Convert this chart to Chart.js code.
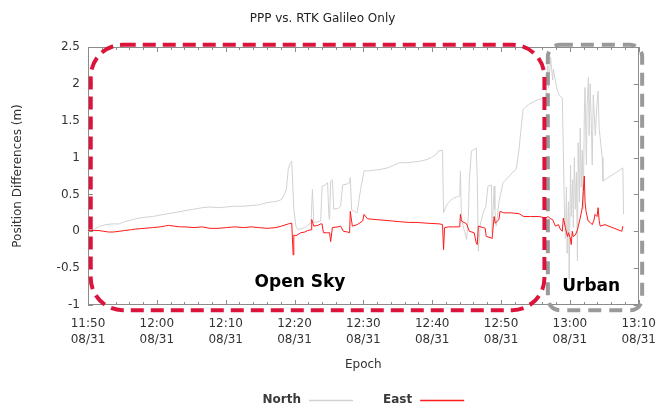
<!DOCTYPE html>
<html><head><meta charset="utf-8">
<script src="https://cdn.jsdelivr.net/npm/chart.js@4"></script>
<style>html,body{margin:0;padding:0;background:#fff}</style>
</head><body>
<canvas id="c" width="666" height="407"></canvas>
<script>
// ---- data ----
const chartTitle = 'PPP vs. RTK Galileo Only';
const startHour = 11, startMinute = 50;
const dateLabel = '08/31';
const xTickMinutes = [0, 10, 20, 30, 40, 50, 60, 70, 80];
const yTickValues = [-1, -0.5, 0, 0.5, 1, 1.5, 2, 2.5];
const seriesNames = ['North', 'East'];

const northMinutes = [0,1.0,1.7,2.6,3.5,4.5,5.3,6.2,6.9,8.2,9.4,10.5,11.7,13.0,14.1,15.4,16.6,17.7,18.9,20.1,21.3,22.6,23.7,24.9,26.0,26.9,27.5,28.1,28.5,28.8,29.1,29.4,29.6,29.9,30.2,30.5,30.8,31.5,31.9,32.4,32.6,32.8,33.4,33.8,34.0,34.5,34.8,35.0,35.1,35.25,35.5,35.7,36.3,36.7,37.0,37.6,38.0,38.1,38.3,38.7,39.1,39.6,39.9,40.1,40.9,41.6,42.5,43.5,44.5,45.3,46.3,47.2,48.2,49.1,49.9,50.7,50.9,51.5,51.65,52.1,52.7,53.1,53.7,54.0,54.1,54.25,54.7,55.0,55.25,55.4,55.7,56.1,56.4,56.55,56.7,57.0,57.4,57.8,58.1,58.6,58.7,59.0,59.1,59.3,59.7,60.3,61.2,61.7,62.2,62.6,62.9,63.2,63.6,64.0,64.8,65.5,66.2,66.5,66.8,66.9,67.2,67.5,67.6,67.9,68.2,68.4,68.6,68.9,69.1,69.2,69.35,69.5,69.6,69.8,69.9,70.1,70.2,70.4,70.5,70.65,70.8,70.95,71.1,71.2,71.4,71.5,71.65,71.8,71.95,72.1,72.2,72.4,72.5,72.7,72.8,72.95,73.1,73.25,73.4,73.7,73.95,74.1,74.25,74.4,74.7,74.8,77.7,77.8];
const northValues = [0.00,0.03,0.07,0.09,0.10,0.10,0.13,0.15,0.17,0.19,0.20,0.22,0.24,0.26,0.28,0.30,0.32,0.33,0.32,0.33,0.34,0.34,0.35,0.36,0.39,0.40,0.41,0.43,0.50,0.56,0.85,0.93,0.95,0.30,0.07,0.02,0.03,0.05,0.08,0.12,0.57,0.12,0.13,0.14,0.61,0.63,0.66,0.20,0.16,0.68,0.70,0.30,0.31,0.34,0.63,0.64,0.66,0.73,0.29,0.27,0.25,0.57,0.72,0.82,0.82,0.83,0.84,0.86,0.90,0.93,0.93,0.94,0.95,0.97,1.00,1.05,1.09,1.10,0.25,0.36,0.42,0.45,0.47,0.48,0.82,0.16,0.00,-0.11,0.20,0.70,1.09,1.11,1.13,0.70,-0.27,0.10,0.25,0.34,0.61,0.63,-0.02,0.61,0.30,0.07,0.40,0.66,0.75,0.80,0.84,1.10,1.38,1.65,1.69,1.72,1.76,1.79,1.80,1.81,2.25,1.95,2.36,2.05,2.20,2.04,1.90,1.86,1.83,1.81,0.82,0.30,-0.10,0.60,-0.30,0.40,-0.65,0.90,0.20,0.70,0.05,1.00,0.30,0.80,-0.40,1.20,0.40,1.40,0.60,1.10,0.30,1.60,1.95,0.90,1.70,2.09,1.30,2.00,1.50,0.90,1.85,1.30,1.75,1.90,1.40,1.27,1.00,0.68,0.86,0.23];

const eastMinutes = [0,1.0,1.6,2.3,3.0,3.7,4.5,5.3,6.2,6.9,8.2,9.4,10.5,11.1,11.7,12.5,13.4,14.1,15.4,16.6,17.7,18.9,20.1,21.3,22.6,23.7,24.9,26.0,27.3,28.1,29.1,29.6,29.8,29.9,30.2,30.9,31.5,31.9,32.4,32.5,32.8,33.4,33.8,34.0,34.2,34.8,35.1,35.25,35.5,36.3,36.7,37.1,37.7,38.0,38.1,38.4,39.1,39.9,40.1,40.6,41.7,43.0,44.2,45.3,46.6,47.8,49.2,51.1,51.5,51.65,51.8,52.4,53.1,54.0,54.1,54.25,55.0,55.4,56.1,56.4,56.55,56.7,57.4,57.7,57.85,58.6,58.7,59.0,59.15,59.7,59.85,60.4,61.4,62.6,63.3,64.3,65.5,66.5,66.8,67.2,67.5,67.9,68.35,68.6,68.9,69.05,69.35,69.65,69.8,70.05,70.2,70.35,70.5,70.8,71.1,71.2,71.5,71.8,71.95,72.1,72.2,72.35,72.65,72.95,73.25,73.5,73.65,73.95,74.1,74.25,74.4,75.1,77.55,77.7];
const eastValues = [0.01,0.01,0.01,0.00,-0.01,-0.01,0.00,0.01,0.02,0.03,0.04,0.05,0.06,0.07,0.08,0.07,0.06,0.06,0.05,0.06,0.04,0.04,0.05,0.06,0.05,0.06,0.05,0.04,0.05,0.07,0.10,0.11,-0.32,-0.05,-0.06,-0.02,-0.01,0.01,0.02,0.16,0.07,0.08,0.10,0.10,-0.02,-0.02,-0.02,-0.14,0.05,0.06,0.07,0.00,-0.01,-0.02,0.27,0.07,0.09,0.14,0.23,0.17,0.16,0.15,0.14,0.13,0.12,0.12,0.11,0.10,0.09,-0.25,0.05,0.06,0.06,0.06,0.23,0.14,0.10,0.00,-0.02,-0.16,-0.18,0.07,0.05,0.04,-0.07,-0.09,-0.10,0.20,0.11,0.16,0.27,0.25,0.25,0.24,0.20,0.20,0.20,0.18,0.20,0.17,0.16,0.07,0.09,0.03,0.00,0.18,0.05,-0.07,-0.02,-0.09,-0.18,0.00,-0.07,-0.05,0.02,0.06,0.18,0.32,0.54,0.75,0.40,0.27,0.14,0.12,0.09,0.15,0.23,0.20,0.32,0.15,0.07,0.09,0.00,0.07];

// region annotations (time span in minutes after start, value span)
const regionNames = ['Open Sky', 'Urban'];
const regionStartMin = [0.4, 66.8];
const regionEndMin = [66.3, 80.5];
const regionTop = 2.53;
const regionBottom = -1.07;
const regionLabelMin = [30.8, 73.1];
const regionLabelValue = [-0.70, -0.75];

// ---- helpers ----
function fmtTime(m) {
  const total = startHour * 60 + startMinute + m;
  const h = Math.floor(total / 60), mm = total % 60;
  return String(h).padStart(2, '0') + ':' + String(mm).padStart(2, '0');
}
const FONT = 'DejaVu Sans';

function roundRect(ctx, x0, y0, x1, y1, r) {
  ctx.beginPath();
  ctx.moveTo(x0 + r, y0);
  ctx.lineTo(x1 - r, y0);
  ctx.arcTo(x1, y0, x1, y0 + r, r);
  ctx.lineTo(x1, y1 - r);
  ctx.arcTo(x1, y1, x1 - r, y1, r);
  ctx.lineTo(x0 + r, y1);
  ctx.arcTo(x0, y1, x0, y1 - r, r);
  ctx.lineTo(x0, y0 + r);
  ctx.arcTo(x0, y0, x0 + r, y0, r);
  ctx.closePath();
}

const framePlugin = {
  id: 'frameTicks',
  beforeDatasetsDraw(chart) {
    const {ctx, chartArea: a, scales: {x, y}} = chart;
    ctx.save();
    ctx.strokeStyle = '#8c8c8c';
    ctx.lineWidth = 1;
    ctx.strokeRect(Math.round(a.left) + 0.5, Math.round(a.top) + 0.5, Math.round(a.right - a.left) - 1, Math.round(a.bottom - a.top) - 1);
    ctx.beginPath();
    for (let m = x.min; m <= x.max; m += 2) {
      const px = Math.round(x.getPixelForValue(m)) + 0.5;
      const len = (m % 10 === 0) ? 5 : 3;
      ctx.moveTo(px, a.bottom); ctx.lineTo(px, a.bottom - len);
      ctx.moveTo(px, a.top); ctx.lineTo(px, a.top + len);
    }
    yTickValues.forEach(v => {
      const py = Math.round(y.getPixelForValue(v)) + 0.5;
      ctx.moveTo(a.left, py); ctx.lineTo(a.left + 5, py);
      ctx.moveTo(a.right, py); ctx.lineTo(a.right - 5, py);
    });
    ctx.stroke();
    ctx.restore();
  },
  afterDraw(chart) {
    const {ctx, chartArea: a, scales: {x, y}} = chart;
    ctx.save();
    // Urban (gray) first, then Open Sky (red) on top
    const order = [1, 0];
    const cfg = [{color: '#dc143c', r: 32, dash: [13, 7]}, {color: '#9a9a9a', r: 12, dash: [13, 8]}];
    order.forEach(i => {
      const x0 = x.getPixelForValue(regionStartMin[i]);
      const x1 = x.getPixelForValue(regionEndMin[i]);
      const y0 = y.getPixelForValue(regionTop);
      const y1 = y.getPixelForValue(regionBottom);
      ctx.setLineDash(cfg[i].dash);
      ctx.lineWidth = 4;
      ctx.strokeStyle = cfg[i].color;
      roundRect(ctx, x0, y0, x1, y1, cfg[i].r);
      ctx.stroke();
    });
    ctx.setLineDash([]);
    ctx.fillStyle = '#000';
    ctx.font = 'bold 17px "' + FONT + '"';
    ctx.textAlign = 'center';
    ctx.textBaseline = 'middle';
    regionNames.forEach((n, i) => {
      ctx.fillText(n, x.getPixelForValue(regionLabelMin[i]), y.getPixelForValue(regionLabelValue[i]));
    });

    // legend: text then line sample, centred under the plot area
    ctx.font = 'bold 12px "' + FONT + '"';
    ctx.textAlign = 'left';
    const ds = chart.data.datasets;
    const lineLen = 44, gapText = 8, gapItem = 30;
    const widths = ds.map(d => ctx.measureText(d.label).width);
    let total = 0;
    ds.forEach((d, i) => { total += widths[i] + gapText + lineLen + (i ? gapItem : 0); });
    let cx = (a.left + a.right) / 2 - total / 2;
    const ly = 400;
    ds.forEach((d, i) => {
      if (i) cx += gapItem;
      ctx.fillStyle = '#3a3a3a';
      ctx.fillText(d.label, cx, ly);
      cx += widths[i] + gapText;
      ctx.strokeStyle = d.borderColor;
      ctx.lineWidth = 1.5;
      ctx.beginPath();
      ctx.moveTo(cx, ly + 0.5); ctx.lineTo(cx + lineLen, ly + 0.5);
      ctx.stroke();
      cx += lineLen;
    });
    ctx.restore();
  }
};

const toPts = (xs, ys) => xs.map((m, i) => ({x: m, y: ys[i]}));

new Chart(document.getElementById('c'), {
  type: 'line',
  data: {
    datasets: [
      {label: seriesNames[0], data: toPts(northMinutes, northValues), borderColor: '#d2d2d2', backgroundColor: '#d2d2d2', borderWidth: 1, pointRadius: 0, tension: 0, order: 1},
      {label: seriesNames[1], data: toPts(eastMinutes, eastValues), borderColor: '#ff1a1a', backgroundColor: '#ff1a1a', borderWidth: 1, pointRadius: 0, tension: 0, order: 0}
    ]
  },
  options: {
    responsive: false,
    animation: false,
    devicePixelRatio: 1,
    layout: {padding: {left: 0, right: 21, top: 0, bottom: 35}},
    plugins: {
      title: {display: true, text: chartTitle, color: '#222', font: {family: FONT, size: 12, weight: 'normal'}, padding: {top: 12, bottom: 20.6}},
      legend: {display: false},
      tooltip: {enabled: false}
    },
    scales: {
      x: {
        type: 'linear', min: 0, max: 80,
        afterBuildTicks: s => { s.ticks = xTickMinutes.map(v => ({value: v})); },
        afterFit: s => { s.height = 67; },
        grid: {display: false, drawTicks: false},
        border: {display: false},
        ticks: {autoSkip: false, maxRotation: 0, padding: 10, color: '#333', font: {family: FONT, size: 12, lineHeight: 1.4},
          callback: v => [fmtTime(v), dateLabel]},
        title: {display: true, text: 'Epoch', color: '#333', font: {family: FONT, size: 12}, padding: {top: 0, bottom: 0}}
      },
      y: {
        type: 'linear', min: -1, max: 2.5,
        afterBuildTicks: s => { s.ticks = yTickValues.map(v => ({value: v})); },
        afterFit: s => { s.width = 88; },
        grid: {display: false, drawTicks: false},
        border: {display: false},
        ticks: {padding: 8, color: '#333', font: {family: FONT, size: 12}, callback: v => String(v)},
        title: {display: true, text: 'Position Differences (m)', color: '#333', font: {family: FONT, size: 12}, padding: {top: 10.8, bottom: 0}}
      }
    }
  },
  plugins: [framePlugin]
});
</script>
</body></html>
